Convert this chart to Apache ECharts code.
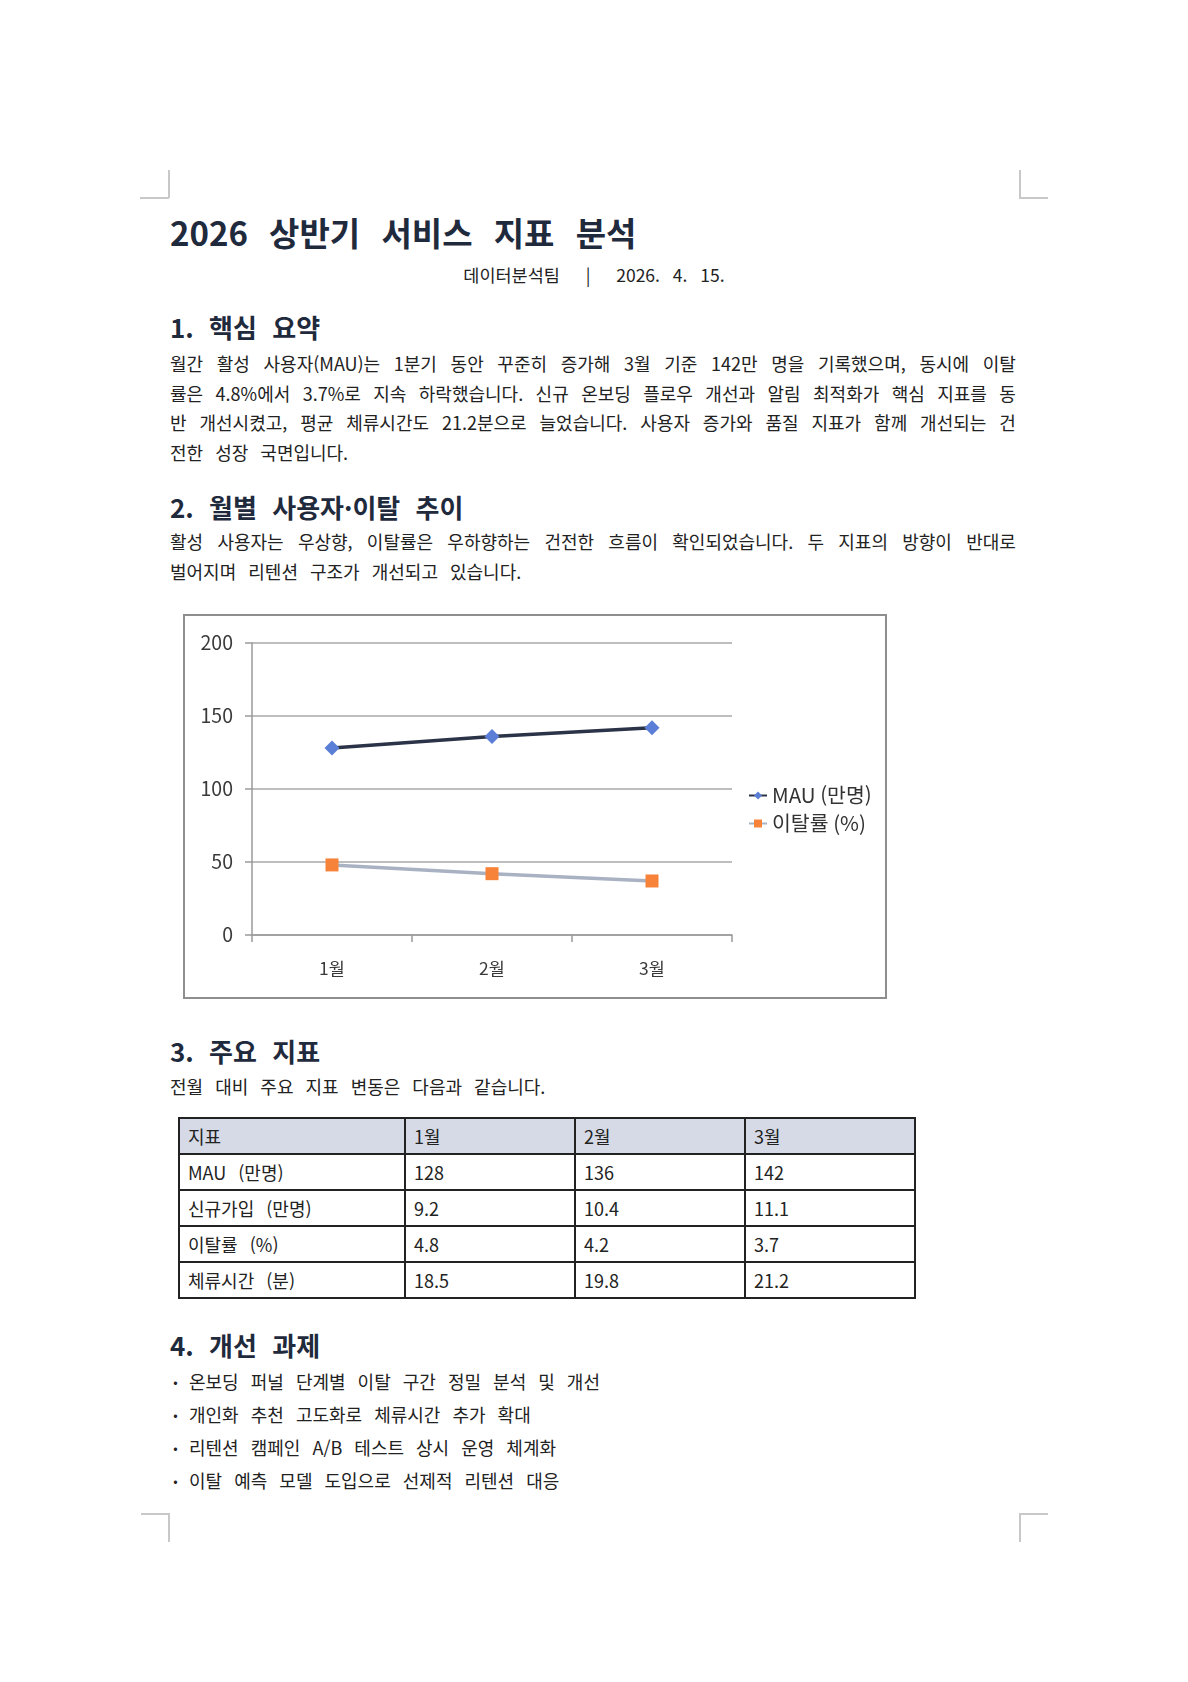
<!DOCTYPE html>
<html lang="ko">
<head>
  <meta charset="UTF-8">
  <meta name="viewport" content="width=device-width, initial-scale=1.0">
  <title>2026 상반기 서비스 지표 분석</title>
  <script src="https://cdn.jsdelivr.net/npm/echarts@6/dist/echarts.min.js"></script>
  <style>
    html, body { margin: 0; padding: 0; background: #fff; }
    body {
      width: 1188px; height: 1682px; position: relative; overflow: hidden;
      font-family: "Noto Sans CJK KR", sans-serif; color: #222;
    }
    .mark { position: absolute; background: #c8c8c8; }
    .title { position: absolute; left: 170px; top: 211.6px; font-size: 33px; line-height: 40px;
      font-weight: 700; color: #1f2a3d; word-spacing: 12px; white-space: nowrap; }
    .sub { position: absolute; left: 0; width: 1188px; top: 263px; text-align: center;
      font-size: 17.5px; line-height: 24px; word-spacing: 8px; white-space: pre; }
    .h { position: absolute; left: 170px; font-size: 26px; line-height: 32px; font-weight: 700;
      color: #1f2a3d; word-spacing: 8px; white-space: nowrap; }
    .para { position: absolute; left: 170px; width: 846px; font-size: 18px; }
    .line { height: 29.5px; line-height: 29.5px; white-space: nowrap; word-spacing: 7px; }
    .line.just { display: flex; justify-content: space-between; word-spacing: 0; }
    .bullets { position: absolute; left: 170px; top: 1364.6px; font-size: 18px; }
    .bullets div { position: relative; height: 33px; line-height: 33px; padding-left: 19px;
      word-spacing: 7px; white-space: nowrap; }
    .bullets div::before { content: "•"; position: absolute; left: 0; width: 11px;
      text-align: center; font-size: 13px; }
    #box { position: absolute; left: 183px; top: 614px; width: 700px; height: 381px;
      border: 2px solid #8e8e8e; }
    #chart { width: 700px; height: 381px; }
    table { position: absolute; left: 178px; top: 1117px; border-collapse: collapse;
      table-layout: fixed; font-size: 18px; }
    td { border: 2px solid #222; height: 34px; padding: 0 0 0 8px; line-height: 34px;
      white-space: nowrap; word-spacing: 7px; }
    tr.head td { background: #d5dae6; }
  </style>
</head>
<body>
  <!-- 모서리 표시 -->
  <div class="mark" style="left:168px; top:170px; width:1.5px; height:28px"></div>
  <div class="mark" style="left:140px; top:197px; width:29px; height:1.5px"></div>
  <div class="mark" style="left:1019px; top:170px; width:1.5px; height:28px"></div>
  <div class="mark" style="left:1019px; top:197px; width:29px; height:1.5px"></div>
  <div class="mark" style="left:141px; top:1513px; width:29px; height:1.5px"></div>
  <div class="mark" style="left:168px; top:1513px; width:1.5px; height:29px"></div>
  <div class="mark" style="left:1019px; top:1513px; width:29px; height:1.5px"></div>
  <div class="mark" style="left:1019px; top:1513px; width:1.5px; height:29px"></div>

  <div class="title">2026 상반기 서비스 지표 분석</div>
  <div class="sub">데이터분석팀  |  2026. 4. 15.</div>

  <div class="h" style="top:310.7px">1. 핵심 요약</div>
  <div class="para" id="p1" style="top:349.4px"></div>

  <div class="h" style="top:490.7px">2. 월별 사용자·이탈 추이</div>
  <div class="para" id="p2" style="top:527.4px"></div>

  <div id="box"><div id="chart"></div></div>

  <div class="h" style="top:1034.7px">3. 주요 지표</div>
  <div class="para" style="top:1072.4px"><div class="line">전월 대비 주요 지표 변동은 다음과 같습니다.</div></div>

  <table id="tbl">
    <colgroup><col style="width:226px"><col style="width:170px"><col style="width:170px"><col style="width:170px"></colgroup>
  </table>

  <div class="h" style="top:1328.7px">4. 개선 과제</div>
  <div class="bullets" id="todo"></div>

  <script>
    // 차트 데이터
    var months = ['1월', '2월', '3월'];
    var mauData = [128, 136, 142];
    var churnPlot = [48, 42, 37];   // 차트에 그려진 이탈률 값
    var yTicks = [0, 50, 100, 150, 200];

    // 표 데이터
    var tableHead = ['지표', '1월', '2월', '3월'];
    var tableRows = [
      ['MAU (만명)', '128', '136', '142'],
      ['신규가입 (만명)', '9.2', '10.4', '11.1'],
      ['이탈률 (%)', '4.8', '4.2', '3.7'],
      ['체류시간 (분)', '18.5', '19.8', '21.2']
    ];

    // 본문 (줄 단위, 마지막 줄 제외 양쪽 정렬)
    var para1 = [
      '월간 활성 사용자(MAU)는 1분기 동안 꾸준히 증가해 3월 기준 142만 명을 기록했으며, 동시에 이탈',
      '률은 4.8%에서 3.7%로 지속 하락했습니다. 신규 온보딩 플로우 개선과 알림 최적화가 핵심 지표를 동',
      '반 개선시켰고, 평균 체류시간도 21.2분으로 늘었습니다. 사용자 증가와 품질 지표가 함께 개선되는 건',
      '전한 성장 국면입니다.'
    ];
    var para2 = [
      '활성 사용자는 우상향, 이탈률은 우하향하는 건전한 흐름이 확인되었습니다. 두 지표의 방향이 반대로',
      '벌어지며 리텐션 구조가 개선되고 있습니다.'
    ];
    var todoList = [
      '온보딩 퍼널 단계별 이탈 구간 정밀 분석 및 개선',
      '개인화 추천 고도화로 체류시간 추가 확대',
      '리텐션 캠페인 A/B 테스트 상시 운영 체계화',
      '이탈 예측 모델 도입으로 선제적 리텐션 대응'
    ];

    function fillPara(id, lines) {
      var el = document.getElementById(id);
      lines.forEach(function (txt, i) {
        var d = document.createElement('div');
        d.className = 'line';
        if (i < lines.length - 1) {
          d.className += ' just';
          txt.split(' ').forEach(function (w) {
            var s = document.createElement('span');
            s.textContent = w;
            d.appendChild(s);
          });
        } else {
          d.textContent = txt;
        }
        el.appendChild(d);
      });
    }
    fillPara('p1', para1);
    fillPara('p2', para2);

    var tbl = document.getElementById('tbl');
    [tableHead].concat(tableRows).forEach(function (row, i) {
      var tr = document.createElement('tr');
      if (i === 0) tr.className = 'head';
      row.forEach(function (c) {
        var td = document.createElement('td');
        td.textContent = c;
        tr.appendChild(td);
      });
      tbl.appendChild(tr);
    });

    var todo = document.getElementById('todo');
    todoList.forEach(function (t) {
      var d = document.createElement('div');
      d.textContent = t;
      todo.appendChild(d);
    });

    var myChart = echarts.init(document.getElementById('chart'));
    var option = {
      animation: false,
      textStyle: { fontFamily: 'Noto Sans CJK KR' },
      grid: { left: 67, top: 27, width: 480, height: 292, containLabel: false },
      legend: {
        orient: 'vertical',
        left: 558,
        top: 164,
        itemWidth: 18,
        itemHeight: 10,
        itemGap: 7,
        textStyle: { fontSize: 20.5, color: '#333', lineHeight: 21 },
        data: ['MAU (만명)', '이탈률 (%)']
      },
      xAxis: {
        type: 'category',
        data: months,
        boundaryGap: true,
        axisLine: { lineStyle: { color: '#9a9a9a', width: 1.5 } },
        axisTick: { show: true, length: 7, lineStyle: { color: '#9a9a9a', width: 1.5 } },
        axisLabel: { fontSize: 17.5, color: '#3a3a3a', margin: 25 },
        splitLine: { show: false }
      },
      yAxis: {
        type: 'value',
        min: yTicks[0],
        max: yTicks[yTicks.length - 1],
        interval: 50,
        axisLine: { show: true, lineStyle: { color: '#9a9a9a', width: 1.5 } },
        axisTick: { show: true, length: 7, lineStyle: { color: '#9a9a9a', width: 1.5 } },
        axisLabel: { fontSize: 19.5, color: '#3a3a3a', margin: 19 },
        splitLine: { show: true, lineStyle: { color: '#a8a8a8', width: 1.5 } }
      },
      series: [
        {
          name: 'MAU (만명)',
          type: 'line',
          data: mauData,
          symbol: 'diamond',
          symbolSize: 15,
          lineStyle: { color: '#2a3347', width: 3.5 },
          itemStyle: { color: '#5b7fd6', borderWidth: 0 }
        },
        {
          name: '이탈률 (%)',
          type: 'line',
          data: churnPlot,
          symbol: 'rect',
          symbolSize: 13,
          lineStyle: { color: '#a9b2c3', width: 3.5 },
          itemStyle: { color: '#f7833b', borderWidth: 0 }
        }
      ]
    };
    myChart.setOption(option);
  </script>
</body>
</html>
